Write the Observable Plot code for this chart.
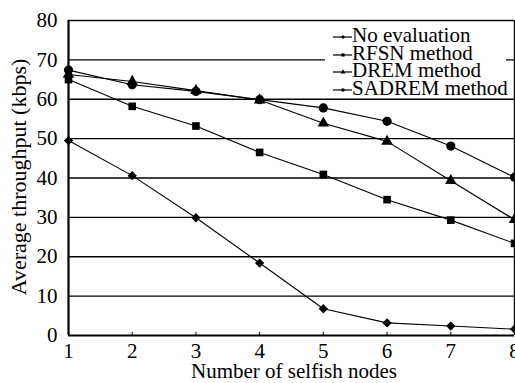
<!DOCTYPE html>
<html>
<head>
<meta charset="utf-8">
<script src="https://cdn.jsdelivr.net/npm/d3@7"></script>
<script src="https://cdn.jsdelivr.net/npm/@observablehq/plot@0.6"></script>
<style>
  body { margin: 0; background: #fff; }
  #wrap { position: relative; width: 515px; height: 383px; font-family: "Liberation Serif", "DejaVu Serif", serif; }
  #legend { position: absolute; left: 325px; top: 22px; width: 181px; height: 76px; background: #fff; }
  #legend .row { position: absolute; left: 0; height: 17.5px; line-height: 17.5px; font-size: 21px; white-space: nowrap; color: #000; }
  #legend svg { position: absolute; left: 8px; top: 0; }
  #legend span { position: absolute; left: 27px; top: 0; }
</style>
</head>
<body>
<div id="wrap"></div>
<script>
const nodes = [1, 2, 3, 4, 5, 6, 7, 8];
const seriesNames = ["No evaluation", "RFSN method", "DREM method", "SADREM method"];
const noEvaluation = [49.5, 40.6, 29.9, 18.4, 6.8, 3.2, 2.4, 1.6];
const rfsn = [65.0, 58.2, 53.2, 46.5, 40.9, 34.5, 29.3, 23.4];
const drem = [66.3, 64.5, 62.2, 59.8, 53.9, 49.3, 39.3, 29.4];
const sadrem = [67.4, 63.7, 62.0, 59.9, 57.8, 54.4, 48.1, 40.2];
const yTicks = [0, 10, 20, 30, 40, 50, 60, 70, 80];
const xTicks = [1, 2, 3, 4, 5, 6, 7, 8];
const symbols = ["diamond2", "square", "triangle", "circle"];
const radii = [4.2, 4.3, 4.3, 4.6];

const allValues = [noEvaluation, rfsn, drem, sadrem];
const data = [];
allValues.forEach((vals, s) => vals.forEach((v, i) => data.push({ series: seriesNames[s], x: nodes[i], y: v, s })));

const marks = [
  Plot.ruleY(yTicks.filter(d => d > 0 && d < 80), { y: d => d, stroke: "#000", strokeWidth: 1.4 }),
  Plot.ruleY([80], { y: d => d, stroke: "#000", strokeWidth: 1.4 }),
  Plot.ruleX([8], { x: d => d, stroke: "#000", strokeWidth: 1.4 }),
  Plot.ruleX(xTicks, { x: d => d, y1: 0, y2: 0.8, stroke: "#000", strokeWidth: 1 }),
  Plot.axisX({ ticks: xTicks, tickSize: 0, tickPadding: 8, tickFormat: d => String(d), fontSize: 21 }),
  Plot.axisY({ ticks: yTicks, tickSize: 0, tickPadding: 11, tickFormat: d => String(d), fontSize: 21 }),
  Plot.line(data, { x: "x", y: "y", z: "series", stroke: "#000", strokeWidth: 1.1 }),
];
seriesNames.forEach((name, s) => {
  marks.push(Plot.dot(data.filter(d => d.s === s), { x: "x", y: "y", symbol: () => symbols[s], r: radii[s], fill: "#000", stroke: "none" }));
});
marks.push(Plot.ruleX([1], { x: d => d, stroke: "#000", strokeWidth: 2.2 }));
marks.push(Plot.ruleY([0], { y: d => d, stroke: "#000", strokeWidth: 2.2 }));

const chart = Plot.plot({
  width: 515,
  height: 383,
  marginLeft: 68,
  marginRight: 1,
  marginTop: 20,
  marginBottom: 48,
  style: { fontFamily: "Liberation Serif", fontSize: "21px", color: "#000", background: "#fff", overflow: "visible" },
  x: { domain: [1, 8], label: null },
  y: { domain: [0, 80], label: null },
  symbol: { type: "identity" },
  marks
});

const wrap = document.getElementById("wrap");
wrap.appendChild(chart);

// axis titles as SVG text
const svg = d3.select(chart);
svg.append("text")
  .attr("x", 294).attr("y", 378)
  .attr("text-anchor", "middle")
  .attr("font-family", "Liberation Serif").attr("font-size", 21).attr("fill", "#000")
  .text("Number of selfish nodes");
svg.append("text")
  .attr("transform", "translate(26,177) rotate(-90)")
  .attr("text-anchor", "middle")
  .attr("font-family", "Liberation Serif").attr("font-size", 22).attr("fill", "#000")
  .text("Average throughput (kbps)");

// legend
const legend = document.createElement("div");
legend.id = "legend";
wrap.appendChild(legend);
const symMap = { diamond2: d3.symbolDiamond2, square: d3.symbolSquare, triangle: d3.symbolTriangle, circle: d3.symbolCircle };
seriesNames.forEach((name, s) => {
  const row = document.createElement("div");
  row.className = "row";
  row.style.top = (5.2 + s * 17.5) + "px";
  row.style.width = "181px";
  const ms = d3.create("svg").attr("width", 20).attr("height", 18);
  ms.append("line").attr("x1", 0).attr("x2", 19).attr("y1", 10).attr("y2", 10).attr("stroke", "#000").attr("stroke-width", 1.2);
  ms.append("path").attr("d", d3.symbol(symMap[symbols[s]], 10)()).attr("transform", "translate(10,10)").attr("fill", "#000");
  row.appendChild(ms.node());
  const sp = document.createElement("span");
  sp.textContent = name;
  row.appendChild(sp);
  legend.appendChild(row);
});
</script>
</body>
</html>
